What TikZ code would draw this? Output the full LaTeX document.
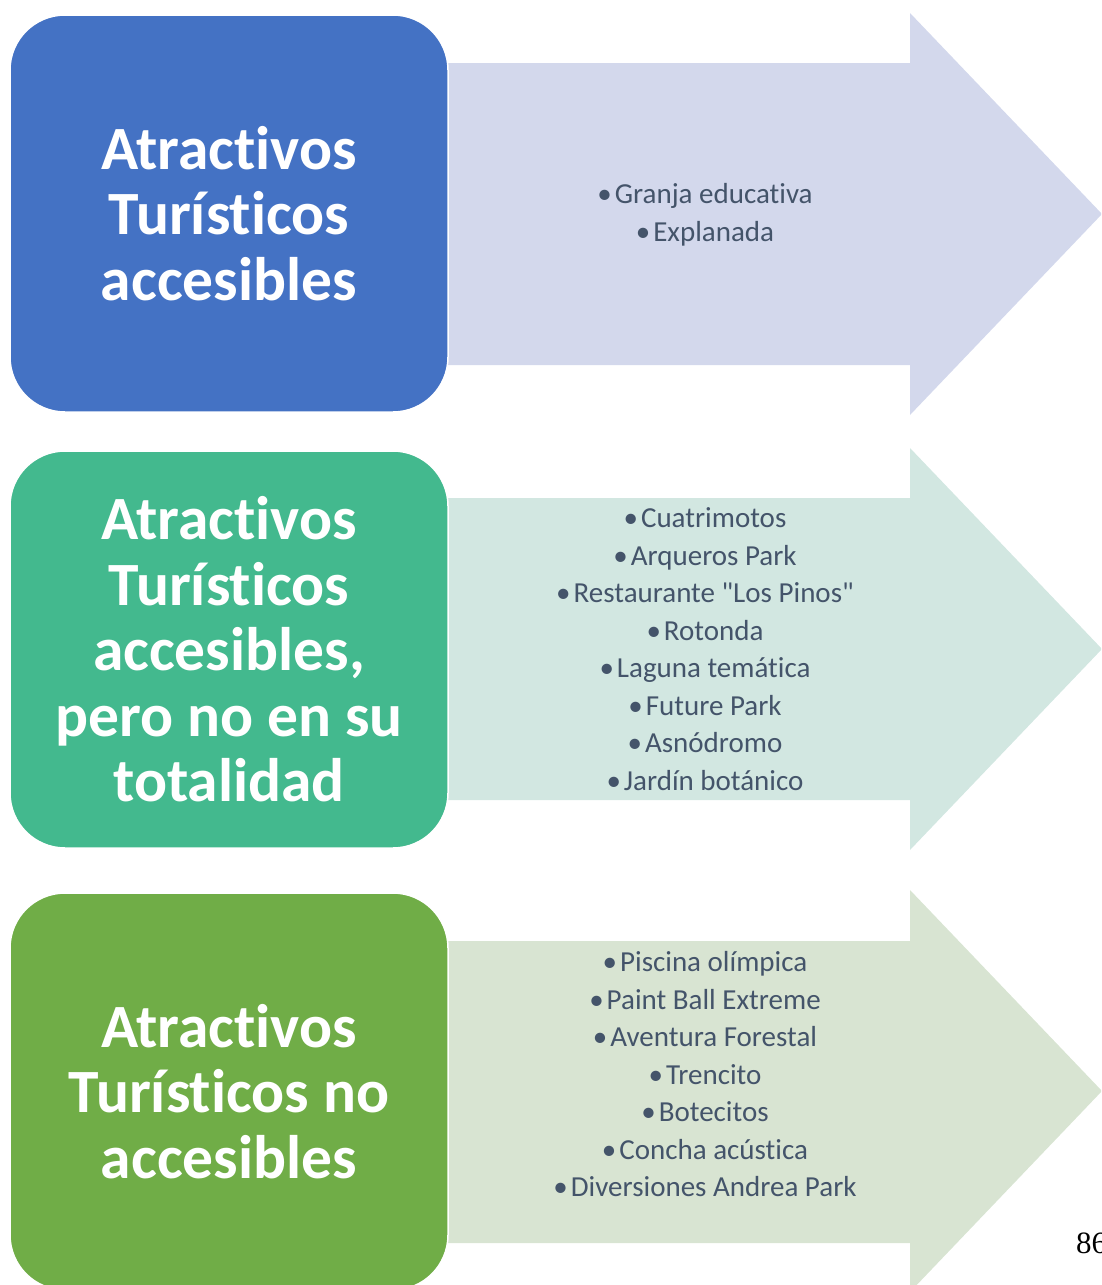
\documentclass[tikz,border=0pt]{standalone}
\usepackage{fontspec}
\setmainfont{Carlito}[Ligatures=NoCommon]
\newfontfamily\pagefont{Liberation Serif}
\usetikzlibrary{positioning}

\definecolor{boxBlue}{HTML}{4472C4}
\definecolor{boxTeal}{HTML}{43B98E}
\definecolor{boxGreen}{HTML}{70AD47}
\definecolor{arrowBlue}{HTML}{D3D8EC}
\definecolor{arrowTeal}{HTML}{D2E7E1}
\definecolor{arrowGreen}{HTML}{D8E4D2}
\definecolor{itemGray}{HTML}{44546A}

\begin{document}
\begin{tikzpicture}[
    x=1pt, y=-1pt,
    catBox/.style={
        rectangle, rounded corners=55pt, draw=white, line width=1.5pt,
        minimum width=438pt, minimum height=397pt, inner sep=0pt,
        align=center, text=white,
        font=\fontsize{61.5}{65.5}\selectfont\bfseries
    },
    itemList/.style={
        align=center, text=itemGray, inner sep=0pt,
        font=\fontsize{29}{37.5}\selectfont
    },
    pageNum/.style={
        anchor=base west, inner sep=0pt, font=\pagefont\fontsize{31}{31}\selectfont
    }
]
\useasboundingbox (0,0) rectangle (1101,1285);
\clip (0,0) rectangle (1101,1285);

% Arrows
\fill[arrowBlue] (440,63) -- (910,63) -- (910,13) -- (1102,214) -- (910,415) -- (910,365) -- (440,365) -- cycle;
\fill[arrowTeal] (440,498) -- (910,498) -- (910,448) -- (1102,649) -- (910,850) -- (910,800) -- (440,800) -- cycle;
\fill[arrowGreen] (440,941) -- (910,941) -- (910,890) -- (1102,1091) -- (910,1292) -- (910,1243) -- (440,1243) -- cycle;

% Category boxes
\node[catBox, fill=boxBlue] (catAcc) at (229,213.5) {Atractivos\\Turísticos\\accesibles};
\node[catBox, fill=boxTeal] (catPart) at (229,649.5) {Atractivos\\Turísticos\\accesibles,\\pero no en su\\totalidad};
\node[catBox, fill=boxGreen] (catNo) at (229,1091.5) {Atractivos\\Turísticos no\\accesibles};

% Item lists
\node[itemList] (listAcc) at (705,215) {•\hspace{3pt}Granja educativa\\•\hspace{3pt}Explanada};
\node[itemList] (listPart) at (705,649) {•\hspace{3pt}Cuatrimotos\\•\hspace{3pt}Arqueros Park\\•\hspace{3pt}Restaurante \textquotedbl Los Pinos\textquotedbl\\•\hspace{3pt}Rotonda\\•\hspace{3pt}Laguna temática\\•\hspace{3pt}Future Park\\•\hspace{3pt}Asnódromo\\•\hspace{3pt}Jardín botánico};
\node[itemList] (listNo) at (705,1074.5) {•\hspace{3pt}Piscina olímpica\\•\hspace{3pt}Paint Ball Extreme\\•\hspace{3pt}Aventura Forestal\\•\hspace{3pt}Trencito\\•\hspace{3pt}Botecitos\\•\hspace{3pt}Concha acústica\\•\hspace{3pt}Diversiones Andrea Park};

% Page number
\node[pageNum] (pageNo) at (1076,1253) {86};

\end{tikzpicture}
\end{document}
